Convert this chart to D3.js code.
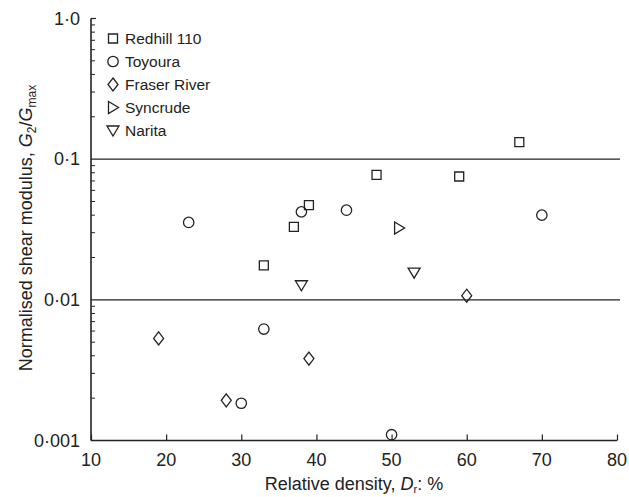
<!DOCTYPE html>
<html><head><meta charset="utf-8">
<script src="https://cdn.jsdelivr.net/npm/d3@7"></script>
<style>body{margin:0;background:#fff}svg{display:block}text{font-family:"Liberation Sans",Arial,sans-serif;fill:#222}</style>
</head><body><svg id="c" width="629" height="497"></svg>
<script>
const seriesNames = ["Redhill 110", "Toyoura", "Fraser River", "Syncrude", "Narita"];
const redhillX = [67, 48, 59, 39, 37, 33];
const redhillY = [0.132, 0.0773, 0.0753, 0.0471, 0.033, 0.0176];
const toyouraX = [23, 38, 44, 70, 33, 30, 50];
const toyouraY = [0.0355, 0.0422, 0.0434, 0.040, 0.0062, 0.00184, 0.0011];
const fraserX = [19, 28, 39, 60];
const fraserY = [0.00532, 0.00193, 0.00382, 0.0107];
const syncrudeX = [51];
const syncrudeY = [0.0324];
const naritaX = [38, 53];
const naritaY = [0.0127, 0.0156];
const xTicks = [10, 20, 30, 40, 50, 60, 70, 80];
const yTicks = [0.001, 0.01, 0.1, 1];
const yTickLabels = ["0·001", "0·01", "0·1", "1·0"];
const gridValues = [0.01, 0.1];

const svg = d3.select("#c");
const L = 91, R = 617, T = 18.5, B = 440.5;
const x = d3.scaleLinear().domain([10, 80]).range([L, R]);
const y = d3.scaleLog().domain([0.001, 1]).range([B, T]);
const ink = "#222";
const FS = 18;

// gridlines
svg.selectAll(".grid").data(gridValues).enter().append("line")
  .attr("x1", L).attr("x2", R + 3).attr("y1", d => y(d)).attr("y2", d => y(d))
  .attr("stroke", ink).attr("stroke-width", 1.4);

// minor y ticks
const minor = [];
[0.001, 0.01, 0.1].forEach(dec => { for (let k = 2; k <= 9; k++) minor.push(dec * k); });
svg.selectAll(".minor").data(minor).enter().append("line")
  .attr("x1", L).attr("x2", L + 4).attr("y1", d => y(d)).attr("y2", d => y(d))
  .attr("stroke", ink).attr("stroke-width", 1);
// top tick
svg.append("line").attr("x1", L).attr("x2", L + 5).attr("y1", y(1)).attr("y2", y(1)).attr("stroke", ink).attr("stroke-width", 1.2);

// y axis labels
const yAxis = d3.axisLeft(y).tickValues(yTicks).tickSize(0).tickPadding(11)
  .tickFormat((d, i) => yTickLabels[i]);
const gy = svg.append("g").attr("transform", `translate(${L},0)`).call(yAxis);
gy.select(".domain").remove();
gy.selectAll("text").attr("font-size", FS).attr("fill", ink).attr("font-family", '"Liberation Sans",Arial,sans-serif');

// x axis (inward ticks)
const xAxis = d3.axisTop(x).tickValues(xTicks).tickSizeInner(6).tickSizeOuter(0).tickFormat(d => "");
const gx = svg.append("g").attr("transform", `translate(0,${B})`).call(xAxis);
gx.select(".domain").remove();
gx.selectAll("line").attr("stroke", ink).attr("stroke-width", 1.2);
svg.selectAll(".xl").data(xTicks).enter().append("text")
  .attr("x", d => x(d)).attr("y", B + 25).attr("text-anchor", "middle")
  .attr("font-size", FS).text(d => d);

// axis lines
svg.append("line").attr("x1", L).attr("x2", L).attr("y1", T).attr("y2", B).attr("stroke", ink).attr("stroke-width", 1.6);
svg.append("line").attr("x1", L).attr("x2", R).attr("y1", B).attr("y2", B).attr("stroke", ink).attr("stroke-width", 1.6);

// axis titles
const xt = svg.append("text").attr("x", 354).attr("y", 490).attr("text-anchor", "middle").attr("font-size", FS);
xt.append("tspan").text("Relative density, ");
xt.append("tspan").attr("font-style", "italic").text("D");
xt.append("tspan").attr("font-size", 11).attr("dy", 3).text("r");
xt.append("tspan").attr("dy", -3).text(": %");

const yt = svg.append("text").attr("transform", "translate(32,228) rotate(-90)").attr("text-anchor", "middle").attr("font-size", FS);
yt.append("tspan").text("Normalised shear modulus, ");
yt.append("tspan").attr("font-style", "italic").text("G");
yt.append("tspan").attr("font-size", 12).attr("dy", 3.5).text("2");
yt.append("tspan").attr("dy", -3.5).text("/");
yt.append("tspan").attr("font-style", "italic").text("G");
yt.append("tspan").attr("font-size", 12).attr("dy", 3.5).text("max");

// marker shapes
function shape(kind, cx, cy) {
  const g = svg.append("path").attr("fill", "none").attr("stroke", ink).attr("stroke-width", 1.3);
  let d;
  if (kind === 0) { const s = 4.5; d = `M${cx-s},${cy-s}H${cx+s}V${cy+s}H${cx-s}Z`; }
  else if (kind === 1) { const r = 5.2; d = `M${cx-r},${cy}A${r},${r} 0 1,0 ${cx+r},${cy}A${r},${r} 0 1,0 ${cx-r},${cy}Z`; }
  else if (kind === 2) { d = `M${cx},${cy-6.5}L${cx+5},${cy}L${cx},${cy+6.5}L${cx-5},${cy}Z`; }
  else if (kind === 3) { d = `M${cx-4.5},${cy-6}L${cx+5.5},${cy}L${cx-4.5},${cy+6}Z`; }
  else { d = `M${cx-6},${cy-4.5}L${cx+6},${cy-4.5}L${cx},${cy+5.5}Z`; }
  g.attr("d", d);
}
const allSeries = [[redhillX, redhillY], [toyouraX, toyouraY], [fraserX, fraserY], [syncrudeX, syncrudeY], [naritaX, naritaY]];
allSeries.forEach((s, k) => s[0].forEach((xv, i) => shape(k, x(xv), y(s[1][i]))));

// legend
seriesNames.forEach((n, k) => {
  const ly = 38.5 + k * 23;
  shape(k, 113, ly);
  svg.append("text").attr("x", 125).attr("y", ly + 5.5).attr("font-size", 15.5).text(n);
});
</script></body></html>
